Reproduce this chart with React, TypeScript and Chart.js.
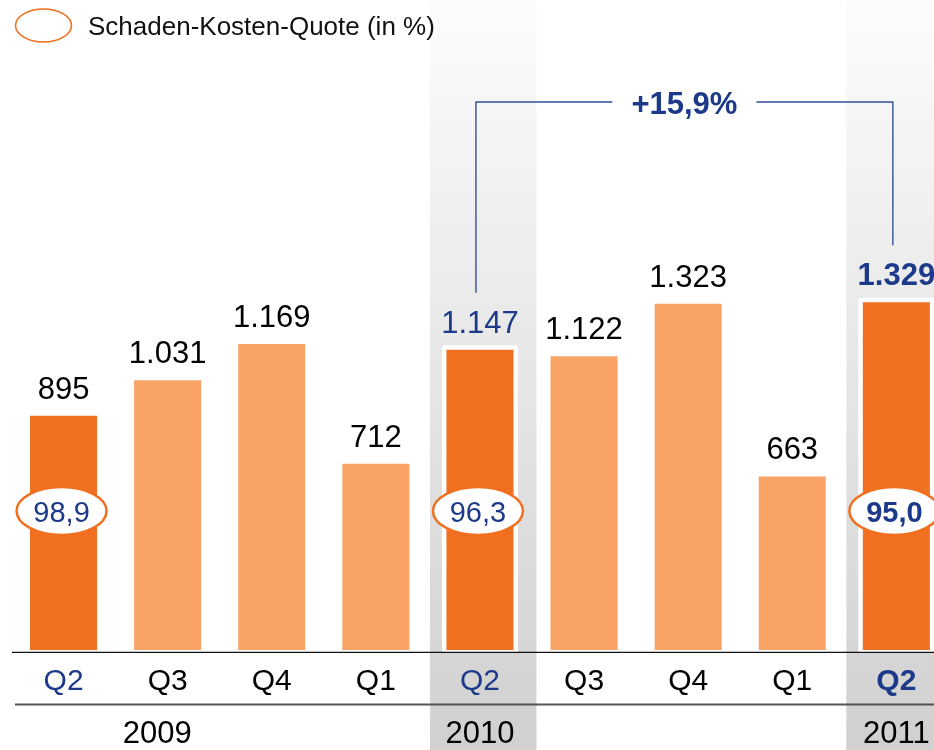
import { useEffect, useRef } from 'react';
import { Chart, registerables } from 'chart.js';
Chart.register(...registerables);

const quarters = ['Q2', 'Q3', 'Q4', 'Q1', 'Q2', 'Q3', 'Q4', 'Q1', 'Q2'];
const premiums = [895, 1031, 1169, 712, 1147, 1122, 1323, 663, 1329];
const valueLabels = ['895', '1.031', '1.169', '712', '1.147', '1.122', '1.323', '663', '1.329'];
const ratioIndices = [0, 4, 8];
const ratioLabels = ['98,9', '96,3', '95,0'];
const darkIndices = [0, 4, 8];
const shadedIndices = [4, 8];
const blueValueIndices = [4, 8];
const blueQuarterIndices = [0, 4, 8];
const boldIndices = [8];
const years = ['2009', '2010', '2011'];
const yearPositions = [0.9, 4, 8];
const growthLabel = '+15,9%';
const growthFrom = 4;
const growthTo = 8;
const legendLabel = 'Schaden-Kosten-Quote (in %)';

const DARK = '#F07020';
const LIGHT = '#F7A466';
const BLUE = '#1D3A8A';
const FONT = '"Liberation Sans", Arial, Helvetica, sans-serif';

const font = (size: number, bold = false) => `${bold ? 'bold ' : ''}${size}px ${FONT}`;

const decorPlugin = {
  id: 'decor',
  beforeDraw(chart: any) {
    const { ctx, width, height } = chart;
    const x = chart.scales.x;
    ctx.save();
    ctx.fillStyle = '#ffffff';
    ctx.fillRect(0, 0, width, height);
    shadedIndices.forEach((i) => {
      const cx = x.getPixelForValue(i);
      const g = ctx.createLinearGradient(0, 0, 0, height);
      g.addColorStop(0, '#fcfcfc');
      g.addColorStop(0.5, '#e6e6e6');
      g.addColorStop(1, '#d0d0d0');
      ctx.fillStyle = g;
      ctx.fillRect(cx - 50, 0, 106.5, height);
    });
    ctx.restore();
  },
  beforeDatasetsDraw(chart: any) {
    const { ctx } = chart;
    const meta = chart.getDatasetMeta(0);
    ctx.save();
    ctx.fillStyle = '#ffffff';
    shadedIndices.forEach((i) => {
      const b = meta.data[i] as any;
      const l = b.x - b.width / 2 - 4.5;
      const w = b.width + 9;
      const t = b.y - 4.5;
      const h = b.base + 3 - t;
      ctx.beginPath();
      ctx.roundRect(l, t, w, h, 3);
      ctx.fill();
    });
    ctx.restore();
  },
  afterDatasetsDraw(chart: any) {
    const { ctx, chartArea } = chart;
    const meta = chart.getDatasetMeta(0);
    const x = chart.scales.x;
    const step = x.getPixelForValue(1) - x.getPixelForValue(0);
    ctx.save();

    // axis lines
    ctx.strokeStyle = '#111111';
    ctx.lineWidth = 1.3;
    ctx.beginPath();
    ctx.moveTo(12, chartArea.bottom + 2.3);
    ctx.lineTo(chart.width, chartArea.bottom + 2.3);
    ctx.stroke();
    ctx.strokeStyle = '#555555';
    ctx.lineWidth = 1.8;
    ctx.beginPath();
    ctx.moveTo(15, chartArea.bottom + 54.5);
    ctx.lineTo(chart.width, chartArea.bottom + 54.5);
    ctx.stroke();

    ctx.textAlign = 'center';
    ctx.textBaseline = 'alphabetic';

    // quarter labels
    quarters.forEach((q, i) => {
      const blue = blueQuarterIndices.includes(i);
      ctx.fillStyle = blue ? BLUE : '#000000';
      ctx.font = font(30, boldIndices.includes(i));
      ctx.fillText(q, x.getPixelForValue(i), chartArea.bottom + 40);
    });

    // year labels
    ctx.fillStyle = '#000000';
    ctx.font = font(31);
    years.forEach((y, i) => {
      const px = x.getPixelForValue(0) + yearPositions[i] * step;
      ctx.fillText(y, px, chartArea.bottom + 93);
    });

    // value labels
    meta.data.forEach((b: any, i: number) => {
      const blue = blueValueIndices.includes(i);
      ctx.fillStyle = blue ? BLUE : '#000000';
      ctx.font = font(31, boldIndices.includes(i));
      ctx.fillText(valueLabels[i], b.x, b.y - 17);
    });

    // combined ratio ellipses
    ratioIndices.forEach((idx, k) => {
      const b = meta.data[idx] as any;
      const cy = chartArea.bottom - 139;
      ctx.beginPath();
      ctx.ellipse(b.x - 2, cy, 45, 24, 0, 0, Math.PI * 2);
      ctx.fillStyle = '#ffffff';
      ctx.fill();
      ctx.lineWidth = 2.5;
      ctx.strokeStyle = DARK;
      ctx.stroke();
      ctx.fillStyle = BLUE;
      ctx.font = font(29, boldIndices.includes(idx));
      ctx.fillText(ratioLabels[k], b.x - 2, cy + 11);
    });

    // growth bracket
    const bFrom = meta.data[growthFrom] as any;
    const bTo = meta.data[growthTo] as any;
    const lx = bFrom.x - 4;
    const rx = bTo.x - 3.5;
    const topY = 102;
    const midX = (lx + rx) / 2;
    ctx.font = font(31, true);
    const tw = ctx.measureText(growthLabel).width;
    ctx.strokeStyle = '#34509A';
    ctx.lineWidth = 1.4;
    ctx.beginPath();
    ctx.moveTo(lx, bFrom.y - 57);
    ctx.lineTo(lx, topY);
    ctx.lineTo(midX - tw / 2 - 19, topY);
    ctx.moveTo(midX + tw / 2 + 19, topY);
    ctx.lineTo(rx, topY);
    ctx.lineTo(rx, bTo.y - 57);
    ctx.stroke();
    ctx.fillStyle = BLUE;
    ctx.fillText(growthLabel, midX, topY + 12);

    // legend
    ctx.beginPath();
    ctx.ellipse(43.5, 25.5, 28, 16.5, 0, 0, Math.PI * 2);
    ctx.lineWidth = 1.6;
    ctx.strokeStyle = DARK;
    ctx.stroke();
    ctx.textAlign = 'left';
    ctx.fillStyle = '#111111';
    ctx.font = font(26);
    ctx.fillText(legendLabel, 88, 35);

    ctx.restore();
  },
};

export default function App() {
  const ref = useRef<HTMLCanvasElement>(null);
  useEffect(() => {
    if (!ref.current) return;
    const chart = new Chart(ref.current, {
      type: 'bar',
      data: {
        labels: quarters,
        datasets: [
          {
            data: premiums,
            backgroundColor: premiums.map((_, i) => (darkIndices.includes(i) ? DARK : LIGHT)),
            borderWidth: 0,
            barPercentage: 0.644,
            categoryPercentage: 1,
          },
        ],
      },
      options: {
        responsive: false,
        animation: false,
        events: [],
        layout: { padding: { left: 11.5, right: 1.6, top: 60, bottom: 100 } },
        plugins: { legend: { display: false }, tooltip: { enabled: false } },
        scales: {
          x: { display: false, offset: true },
          y: { display: false, min: 0, max: 2254 },
        },
      },
      plugins: [decorPlugin],
    });
    return () => chart.destroy();
  }, []);
  return (
    <div style={{ position: 'fixed', left: 0, top: 0, width: 934, height: 750, overflow: 'hidden', background: '#fff' }}>
      <canvas ref={ref} width={950} height={750} style={{ display: 'block' }} />
    </div>
  );
}
